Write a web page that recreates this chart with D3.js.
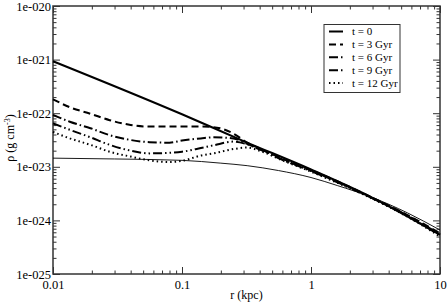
<!DOCTYPE html>
<html>
<head>
<meta charset="utf-8">
<script src="https://cdn.jsdelivr.net/npm/d3@7"></script>
<style>
  body { margin: 0; background: #fff; }
  svg text { font-family: "Liberation Serif", "DejaVu Serif", serif; }
</style>
</head>
<body>
<div id="chart"></div>
<script>
// radii (kpc) of the evolved profiles
var rEvol = [0.01, 0.0135, 0.0195, 0.0275, 0.04, 0.056, 0.08, 0.1, 0.14, 0.175, 0.25, 0.32, 0.42, 0.6, 1, 1.6, 2.9, 5.6, 10];

// density (g cm^-3)
var rT0 = [0.01, 0.1, 0.3, 1, 2.9, 10];
var rhoT0 = [9.33e-22, 9.55e-23, 3.02e-23, 8.91e-24, 2.75e-24, 5.37e-25];

var rhoT3 = [1.82e-22, 1.29e-22, 9.77e-23, 7.41e-23, 6.03e-23, 5.62e-23, 5.62e-23, 5.62e-23, 5.62e-23, 5.50e-23,
             4.17e-23, 2.82e-23, 2.09e-23, 1.41e-23, 8.71e-24, 5.37e-24, 2.75e-24, 1.26e-24, 5.75e-25];
var rhoT6 = [9.33e-23, 6.92e-23, 5.25e-23, 3.89e-23, 3.16e-23, 2.88e-23, 2.82e-23, 3.09e-23, 3.39e-23, 3.55e-23,
             3.39e-23, 2.69e-23, 2.04e-23, 1.38e-23, 8.51e-24, 5.25e-24, 2.69e-24, 1.23e-24, 5.50e-25];
var rhoT9 = [6.46e-23, 4.90e-23, 3.55e-23, 2.57e-23, 2.00e-23, 1.78e-23, 1.82e-23, 1.91e-23, 2.24e-23, 2.51e-23,
             2.95e-23, 2.63e-23, 2.00e-23, 1.35e-23, 8.32e-24, 5.13e-24, 2.69e-24, 1.20e-24, 5.25e-25];
var rhoT12 = [4.47e-23, 3.39e-23, 2.57e-23, 1.91e-23, 1.55e-23, 1.32e-23, 1.23e-23, 1.29e-23, 1.62e-23, 1.78e-23,
              2.14e-23, 2.29e-23, 1.91e-23, 1.32e-23, 8.13e-24, 5.01e-24, 2.63e-24, 1.17e-24, 5.01e-25];

// thin reference profile (not in legend)
var rThin = [0.01, 0.03, 0.1, 0.2, 0.32, 0.56, 1, 1.6, 2.9, 5.6, 10];
var rhoThin = [1.45e-23, 1.40e-23, 1.32e-23, 1.17e-23, 1.05e-23, 8.51e-24, 6.31e-24, 4.47e-24, 2.75e-24, 1.38e-24, 6.61e-25];

var legendLabels = ["t = 0", "t = 3 Gyr", "t = 6 Gyr", "t = 9 Gyr", "t = 12 Gyr"];
var xTickValues = [0.01, 0.1, 1, 10];
var xTickLabels = ["0.01", "0.1", "1", "10"];
var yTickValues = [1e-25, 1e-24, 1e-23, 1e-22, 1e-21, 1e-20];
var yTickLabels = ["1e-025", "1e-024", "1e-023", "1e-022", "1e-021", "1e-020"];

var width = 447, height = 302;
var mLeft = 53, mRight = 440, mTop = 6, mBottom = 274;

var svg = d3.select("#chart")
  .append("svg")
    .attr("width", width)
    .attr("height", height);

var x = d3.scaleLog().domain([0.01, 10]).range([mLeft, mRight]);
var y = d3.scaleLog().domain([1e-25, 1e-20]).range([mBottom, mTop]);

// minor ticks: 2..9 times each decade
function minors(lo, hi) {
  var out = [];
  for (var e = lo; e < hi; e++)
    for (var m = 2; m <= 9; m++) out.push(m * Math.pow(10, e));
  return out;
}
var xMinor = minors(-2, 1);
var yMinor = minors(-25, -20);

var axisColor = "#333";

function styleAxis(g) {
  g.select(".domain").remove();
  g.selectAll("line").attr("stroke", axisColor).attr("stroke-width", 1);
  g.selectAll("text").style("font-size", "12.5px").attr("fill", "#000")
    .style("font-family", '"Liberation Serif", serif');
}

// bottom
svg.append("g").attr("transform", `translate(0,${mBottom})`)
  .call(d3.axisBottom(x).tickValues(xTickValues).tickSize(-7).tickPadding(6)
        .tickFormat(function(d, i) { return xTickLabels[i]; }))
  .call(styleAxis);
svg.append("g").attr("transform", `translate(0,${mBottom})`)
  .call(d3.axisBottom(x).tickValues(xMinor).tickSize(-3.5).tickFormat(""))
  .call(styleAxis);
// top
svg.append("g").attr("transform", `translate(0,${mTop})`)
  .call(d3.axisTop(x).tickValues(xTickValues).tickSize(-7).tickFormat(""))
  .call(styleAxis);
svg.append("g").attr("transform", `translate(0,${mTop})`)
  .call(d3.axisTop(x).tickValues(xMinor).tickSize(-3.5).tickFormat(""))
  .call(styleAxis);
// left
svg.append("g").attr("transform", `translate(${mLeft},0)`)
  .call(d3.axisLeft(y).tickValues(yTickValues).tickSize(-7).tickPadding(2)
        .tickFormat(function(d, i) { return yTickLabels[i]; }))
  .call(styleAxis);
svg.append("g").attr("transform", `translate(${mLeft},0)`)
  .call(d3.axisLeft(y).tickValues(yMinor).tickSize(-3.5).tickFormat(""))
  .call(styleAxis);
// right
svg.append("g").attr("transform", `translate(${mRight},0)`)
  .call(d3.axisRight(y).tickValues(yTickValues).tickSize(-7).tickFormat(""))
  .call(styleAxis);
svg.append("g").attr("transform", `translate(${mRight},0)`)
  .call(d3.axisRight(y).tickValues(yMinor).tickSize(-3.5).tickFormat(""))
  .call(styleAxis);

// frame
svg.append("rect")
  .attr("x", mLeft).attr("y", mTop)
  .attr("width", mRight - mLeft).attr("height", mBottom - mTop)
  .attr("fill", "none").attr("stroke", axisColor).attr("stroke-width", 1.5);

var line = d3.line()
  .x(function(d) { return x(d[0]); })
  .y(function(d) { return y(d[1]); })
  .curve(d3.curveMonotoneX);

var series = [
  {r: rT0, rho: rhoT0, dash: null, w: 2},
  {r: rEvol, rho: rhoT3, dash: "7,4", w: 2},
  {r: rEvol, rho: rhoT6, dash: "9,3,1.5,3", w: 2},
  {r: rEvol, rho: rhoT9, dash: "9,3,1.5,3,1.5,3", w: 2},
  {r: rEvol, rho: rhoT12, dash: "1.5,3", w: 2}
];

var plot = svg.append("g");

plot.append("path")
  .attr("d", line(d3.zip(rThin, rhoThin)))
  .attr("fill", "none").attr("stroke", "#000").attr("stroke-width", 0.9);

plot.selectAll(".curve")
  .data(series)
  .join("path")
    .attr("class", "curve")
    .attr("d", function(s) { return line(d3.zip(s.r, s.rho)); })
    .attr("fill", "none")
    .attr("stroke", "#000")
    .attr("stroke-width", function(s) { return s.w; })
    .attr("stroke-dasharray", function(s) { return s.dash; });

// legend
var lg = svg.append("g");
lg.append("rect")
  .attr("x", 324).attr("y", 24.5).attr("width", 76).attr("height", 68)
  .attr("fill", "#fff").attr("stroke", axisColor).attr("stroke-width", 1);

var rows = lg.selectAll(".row")
  .data(series)
  .join("g")
    .attr("class", "row")
    .attr("transform", function(d, i) { return `translate(0,${31.5 + i * 12.9})`; });
rows.append("line")
  .attr("x1", 329).attr("x2", 343)
  .attr("stroke", "#000")
  .attr("stroke-width", function(s) { return s.w; })
  .attr("stroke-dasharray", function(s) { return s.dash; });
rows.append("text")
  .attr("x", 352).attr("dy", "0.33em")
  .style("font-size", "11px")
  .text(function(d, i) { return legendLabels[i]; });

// axis titles
svg.append("text")
  .attr("x", (mLeft + mRight) / 2).attr("y", 299)
  .attr("text-anchor", "middle")
  .style("font-size", "12px")
  .text("r (kpc)");

var yt = svg.append("text")
  .attr("transform", "translate(14,138) rotate(-90)")
  .attr("text-anchor", "middle")
  .style("font-size", "12px");
yt.append("tspan").text("ρ (g cm");
yt.append("tspan").attr("baseline-shift", "super").style("font-size", "8px").text("-3");
yt.append("tspan").text(")");
</script>
</body>
</html>
